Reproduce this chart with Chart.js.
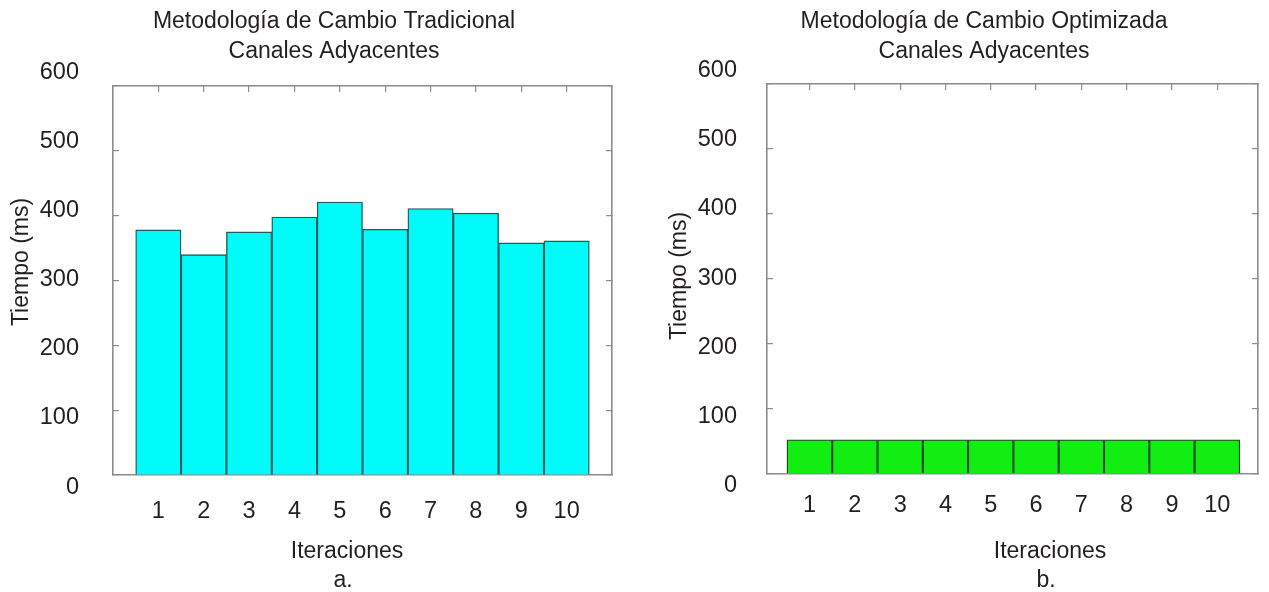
<!DOCTYPE html>
<html><head><meta charset="utf-8">
<script src="https://cdn.jsdelivr.net/npm/chart.js@4/dist/chart.umd.min.js"></script>
<style>
html,body{margin:0;padding:0;background:#fff;width:1269px;height:592px;overflow:hidden}
.box{position:absolute;top:0;height:592px}
#boxA{left:0;width:634px}
#boxB{left:634px;width:635px}
</style></head><body>
<div class="box" id="boxA"><canvas id="chartA"></canvas></div>
<div class="box" id="boxB"><canvas id="chartB"></canvas></div>
<script>
// ---- data ----
const categories = ['1','2','3','4','5','6','7','8','9','10'];
const tradicional = [378, 340, 375, 398, 421, 379, 411, 404, 358, 361];
const optimizada  = [52, 52, 52, 52, 52, 52, 52, 52, 52, 52];
const yTicks = [0, 100, 200, 300, 400, 500, 600];
const titleA = ['Metodología de Cambio Tradicional', 'Canales Adyacentes'];
const titleB = ['Metodología de Cambio Optimizada', 'Canales Adyacentes'];
const yTitle = 'Tiempo (ms)';
const xTitleA = ['Iteraciones', 'a.'];
const xTitleB = ['Iteraciones', 'b.'];

// ---- styles ----
const frameColor = '#8c8c8c';
const textColor = '#231f20';
const labelFamily = 'Liberation Sans';
const tickFont = {family: labelFamily, size: 23.5, weight: 'normal'};

const textPlugin = {
  id: 'chartTexts',
  afterDraw(chart, args, o) {
    const ctx = chart.ctx;
    ctx.save();
    ctx.fillStyle = o.color;
    ctx.font = o.size + 'px "' + o.family + '"';
    ctx.textAlign = 'center';
    ctx.textBaseline = 'alphabetic';
    o.title.forEach((t, i) => ctx.fillText(t, o.titleX, o.titleY + i * o.titleLH));
    o.xText.forEach((t, i) => ctx.fillText(t, o.xCenter - (i ? 4 : 0), o.xBase + i * o.xLH));
    ctx.translate(o.yX, o.yY);
    ctx.rotate(-Math.PI / 2);
    ctx.textBaseline = 'middle';
    ctx.fillText(o.yText, 0, 0);
    ctx.restore();
  }
};

function build(id, values, c) {
  const data = categories.map((cat, i) => ({x: i + 1, y: values[i]}));
  const catTicks = s => { s.ticks = categories.map((cat, i) => ({value: i + 1})); };
  const valTicks = s => { s.ticks = yTicks.map(v => ({value: v})); };
  const innerGrid = {display: true, offset: false, drawOnChartArea: false, drawTicks: true, tickLength: -6, color: frameColor, lineWidth: 1.2};
  const border = {display: true, color: frameColor, width: 1.6};
  return new Chart(document.getElementById(id), {
    type: 'bar',
    data: {datasets: [{
      data,
      backgroundColor: c.fill,
      borderColor: c.edge,
      borderWidth: 1.4,
      borderSkipped: 'start',
      categoryPercentage: 1,
      barPercentage: 1
    }]},
    options: {
      responsive: true,
      maintainAspectRatio: false,
      animation: false,
      events: [],
      layout: {padding: {left: c.padL, right: c.padR, top: c.padT, bottom: 0}},
      plugins: {
        legend: {display: false},
        tooltip: {enabled: false},
        title: {display: false},
        chartTexts: {
          color: textColor, family: labelFamily, size: 23,
          title: c.title, titleX: c.titleX, titleY: 28, titleLH: 30,
          xText: c.xTitle, xCenter: c.xCenter, xBase: 558, xLH: 29,
          yText: yTitle, yX: c.yX, yY: c.yY
        }
      },
      scales: {
        x: {
          type: 'linear', position: 'bottom', min: c.xMin, max: c.xMax, offset: false,
          afterBuildTicks: catTicks,
          afterFit: s => { s.height = c.xAxisH; },
          ticks: {callback: v => categories[v - 1], font: tickFont, color: textColor, padding: c.xTickPad, maxRotation: 0, autoSkip: false},
          grid: {display: false, offset: false},
          border
        },
        x2: {
          type: 'linear', position: 'top', min: c.xMin, max: c.xMax, offset: false,
          afterBuildTicks: catTicks,
          afterFit: s => { s.height = 0; },
          ticks: {display: false},
          grid: innerGrid,
          border
        },
        y: {
          type: 'linear', position: 'left', weight: 0, min: 0, max: 600,
          afterBuildTicks: valTicks,
          afterFit: s => { s.width = 0; },
          ticks: {display: false},
          grid: innerGrid,
          border
        },
        yl: {
          type: 'linear', axis: 'y', position: 'left', weight: 1, min: c.labMin, max: c.labMax,
          afterBuildTicks: valTicks,
          afterFit: s => { s.width = c.yAxisW; },
          ticks: {callback: v => String(v), font: tickFont, color: textColor, padding: c.yTickPad, autoSkip: false},
          grid: {display: false},
          border: {display: false}
        },
        y2: {
          type: 'linear', position: 'right', min: 0, max: 600,
          afterBuildTicks: valTicks,
          afterFit: s => { s.width = 0; },
          ticks: {display: false},
          grid: innerGrid,
          border
        }
      }
    },
    plugins: [textPlugin]
  });
}

build('chartA', tradicional, {
  fill: '#00fbfb', edge: '#245a5a', title: titleA, titleX: 334, xTitle: xTitleA,
  padL: 8, padR: 22, padT: 86,
  xMin: 0, xMax: 11, xAxisH: 117, xTickPad: 14, yAxisW: 105, yTickPad: 26,
  labMin: 17.4, labMax: 580.5,
  xCenter: 347, yX: 22, yY: 262
});
build('chartB', optimizada, {
  fill: '#12ee12', edge: '#1f4a1f', title: titleB, titleX: 350, xTitle: xTitleB,
  padL: 8, padR: 11, padT: 84,
  xMin: 0.06, xMax: 10.9, xAxisH: 118.5, xTickPad: 10, yAxisW: 125, yTickPad: 22,
  labMin: 17.4, labMax: 580.5,
  xCenter: 416, yX: 46, yY: 276
});
</script>
</body></html>
